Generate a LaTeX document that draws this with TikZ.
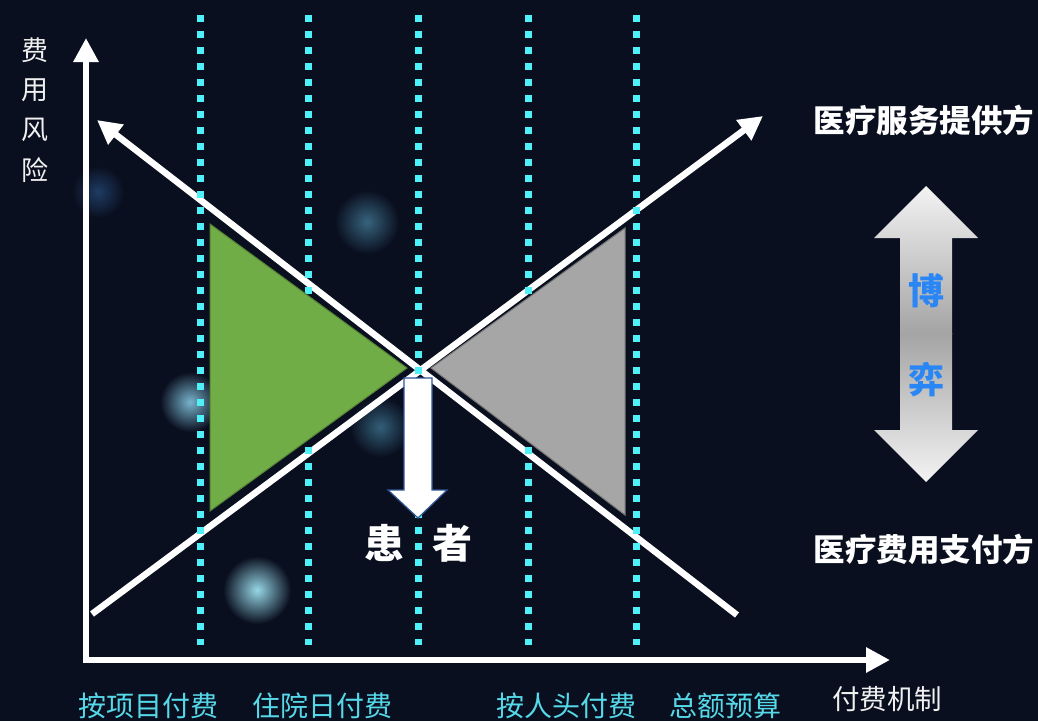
\documentclass[tikz,border=0pt]{standalone}
\usepackage{fontspec}
\newfontfamily\cjk{Noto Sans CJK SC}
\usetikzlibrary{arrows.meta}
\definecolor{bg}{HTML}{0A0F1F}
\definecolor{dotc}{HTML}{4FF0F8}
\definecolor{labc}{HTML}{55D8E8}
\definecolor{grn}{HTML}{70AD47}
\definecolor{gry}{HTML}{A6A6A6}
\definecolor{bluet}{HTML}{2A86F5}
\definecolor{arrbd}{HTML}{2F5597}
\definecolor{midg}{HTML}{A4A4A4}
\definecolor{endg}{HTML}{F6F6F6}
\definecolor{bk1}{RGB}{150,215,230}
\definecolor{bk2}{RGB}{55,100,125}
\definecolor{bk3}{RGB}{120,180,205}
\definecolor{bk4}{RGB}{50,95,120}
\definecolor{bk5}{RGB}{30,60,100}
\begin{document}
\begin{tikzpicture}[x=1pt,y=-1pt,
  whiteline/.style={white,line width=6.5pt},
  tip/.style={-{Triangle[width=24pt,length=24pt]}},
  dotline/.style={dotc,line width=7pt,dash pattern=on 7pt off 9pt},
  axislab/.style={text=white!88!gray,font=\cjk\fontsize{27}{27}\selectfont,inner sep=0pt},
  mechlab/.style={text=labc,font=\cjk\fontsize{28}{28}\selectfont,inner sep=0pt},
  sidelab/.style={text=white,font=\cjk\bfseries\fontsize{31.5}{31.5}\selectfont,inner sep=0pt},
  gamelab/.style={text=bluet,font=\cjk\bfseries\fontsize{36}{36}\selectfont,inner sep=0pt},
  patlab/.style={text=white,font=\cjk\bfseries\fontsize{40}{40}\selectfont,inner sep=0pt}]
\fill[bg] (0,0) rectangle (1038,721);
\useasboundingbox (0,0) rectangle (1038,721);
% bokeh
\shade[inner color=bk1, outer color=bg] (257,590) circle (34pt);
\shade[inner color=bk2, outer color=bg] (367,222) circle (32pt);
\shade[inner color=bk3, outer color=bg] (190,402) circle (30pt);
\shade[inner color=bk4, outer color=bg] (380,427) circle (30pt);
\shade[inner color=bk5, outer color=bg] (98,192) circle (26pt);
% coordinates
\coordinate (O) at (86,660);
\coordinate (Ytop) at (86,38);
\coordinate (Xend) at (890,660);
\coordinate (A1) at (737,615);
\coordinate (A2) at (97,120);
\coordinate (B1) at (92,614);
\coordinate (B2) at (763,116);
% axes and diagonals
\draw[whiteline,tip] (86,663) -- (Ytop);
\draw[whiteline,tip] (83,660) -- (Xend);
\draw[whiteline,tip] (A1) -- (A2);
\draw[whiteline,tip] (B1) -- (B2);
% dotted verticals
\foreach \x/\n in {200/d1,308/d2,418/d3,528/d4,636/d5}{
  \coordinate (\n t) at (\x,15);
  \coordinate (\n b) at (\x,645);
  \draw[dotline] (\n t) -- (\n b);
}
% triangles
\coordinate (g1) at (210,224);
\coordinate (g2) at (210,511);
\coordinate (g3) at (407,368);
\coordinate (h1) at (625,228);
\coordinate (h2) at (625,515);
\coordinate (h3) at (431,368);
\filldraw[fill=grn,draw=grn!75!black,line width=1pt] (g1) -- (g3) -- (g2) -- cycle;
\filldraw[fill=gry,draw=gry!70!black,line width=1pt] (h1) -- (h3) -- (h2) -- cycle;
% down arrow
\filldraw[fill=white,draw=arrbd,line width=1.2pt]
  (404,378) -- (432,378) -- (432,490) -- (447,490) -- (418,518) -- (388,490) -- (404,490) -- cycle;
% double arrow
\begin{scope}
\clip (926,186) -- (978,238) -- (952,238) -- (952,430) -- (978,430) -- (926,482)
  -- (874,430) -- (900,430) -- (900,238) -- (874,238) -- cycle;
\shade[top color=endg, bottom color=midg] (870,180) rectangle (982,334);
\shade[top color=midg, bottom color=endg] (870,333) rectangle (982,488);
\end{scope}
% labels
\node[axislab] (l1) at (35,50) {费};
\node[axislab] (l2) at (35,90) {用};
\node[axislab] (l3) at (35,130) {风};
\node[axislab] (l4) at (35,170) {险};
\node[mechlab] (m1) at (148,706) {按项目付费};
\node[mechlab] (m2) at (322,706) {住院日付费};
\node[mechlab] (m3) at (566,706) {按人头付费};
\node[mechlab] (m4) at (725,706) {总额预算};
\node[axislab,font=\cjk\fontsize{27.5}{27.5}\selectfont] (xl) at (887,699) {付费机制};
\node[sidelab] (s1) at (924,120) {医疗服务提供方};
\node[sidelab] (s2) at (924,549) {医疗费用支付方};
\node[gamelab] (b1) at (926,291) {博};
\node[gamelab] (b2) at (926,380) {弈};
\node[patlab] (p1) at (384,543) {患};
\node[patlab] (p2) at (452,543) {者};
\end{tikzpicture}
\end{document}
